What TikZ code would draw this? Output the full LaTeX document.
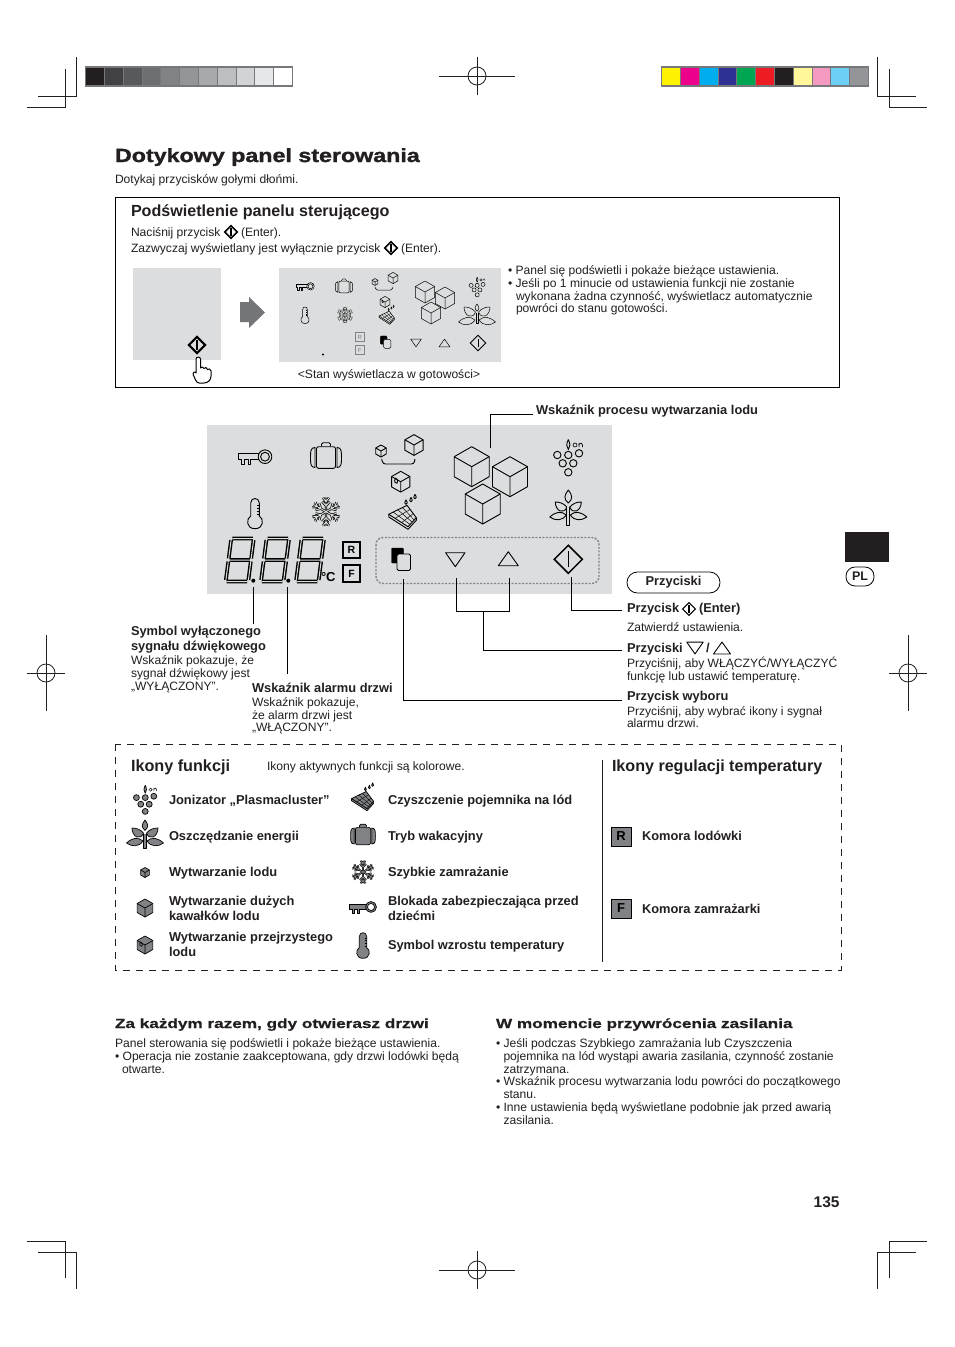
\documentclass[tikz,border=0pt]{standalone}
\usepackage{fontspec}
\setmainfont{Liberation Sans}
\newfontfamily\widefont[FakeStretch=1.3,FakeBold=0.5]{Liberation Sans Bold}
\newfontfamily\titlefont[FakeStretch=1.22,FakeBold=1.5]{Liberation Sans Bold}
\usetikzlibrary{calc}
\definecolor{panel}{HTML}{DCDDDE}
\definecolor{midgray}{HTML}{808285}
\definecolor{barframe}{HTML}{77787B}
\definecolor{inkblack}{HTML}{231F20}
\colorlet{icofill}{panel}
\colorlet{icohole}{panel}
\def\icolw{0.9pt}
\def\enterlw{1.5pt}
\tikzset{
  txt/.style={anchor=base west,inner sep=0pt,outer sep=0pt,text=inkblack,font=\fontsize{12.1}{14}\selectfont},
  txtb/.style={txt,font=\fontsize{12.85}{15}\selectfont\bfseries},
  head/.style={txt,font=\fontsize{16.1}{18}\selectfont\bfseries},
  wide/.style={txt,font=\fontsize{13.2}{16}\widefont},
  ico/.style={draw=black,fill=icofill,line width=\icolw,line join=round},
  crop/.style={draw=inkblack,line width=0.8pt},
  leader/.style={draw=black,line width=0.7pt},
  pics/ienter/.style={code={
    \draw[black,line width=\enterlw,line join=miter] (0,-14)--(14,0)--(0,14)--(-14,0)--cycle;
    \draw[black,line width=\enterlw] (0,-8)--(0,8);}},
  pics/icube/.style={code={
    \draw[ico] (0,-20)--(17.5,-10)--(17.5,10)--(0,20)--(-17.5,10)--(-17.5,-10)--cycle;
    \draw[ico,fill=none] (-17.5,-10)--(0,0)--(17.5,-10) (0,0)--(0,20);}},
  pics/icubew/.style={code={
    \draw[ico] (0,-20)--(17.5,-10)--(17.5,10)--(0,20)--(-17.5,10)--(-17.5,-10)--cycle;
    \draw[ico,fill=none] (-17.5,-10)--(0,0)--(17.5,-10) (0,0)--(0,20);
    \draw[ico,fill=none] (-10,-7) .. controls (-14,0) and (-10,4) .. (-7,3) .. controls (-5,0) and (-5,-3) .. (-10,-7);}},
  pics/ikey/.style={code={
    \draw[ico] (4.6,-4.7)--(-16.7,-4.7)--(-16.7,1.3)--(-13.5,1.3)--(-13.5,6.7)--(-11,6.7)--(-11,1.3)--(-7,1.3)--(-7,6.7)--(-4.5,6.7)--(-4.5,1.3)--(4.6,1.3);
    \draw[ico] (10,-1.3) circle (6.8);
    \draw[ico,fill=icohole] (10,-1.3) circle (4.4);}},
  pics/icase/.style={code={
    \draw[ico,rounded corners=1.5pt] (-4.5,-10.8)--(-4.5,-14.8)--(4.5,-14.8)--(4.5,-10.8);
    \draw[ico,rounded corners=2pt] (-9.5,-10.8) rectangle (9.5,10.8);
    \draw[ico] (-11,-10) .. controls (-15.5,-10) and (-15.5,-6) .. (-15.5,0) .. controls (-15.5,6) and (-15.5,10) .. (-11,10) -- cycle;
    \draw[ico] (11,-10) .. controls (15.5,-10) and (15.5,-6) .. (15.5,0) .. controls (15.5,6) and (15.5,10) .. (11,10) -- cycle;}},
  pics/ithermo/.style={code={
    \draw[ico] (-4.3,3)--(-4.3,-10) .. controls (-4.3,-16) and (4.3,-16) .. (4.3,-10) -- (4.3,3) .. controls (9,5.5) and (9,15.7) .. (0,15.7) .. controls (-9,15.7) and (-9,5.5) .. (-4.3,3) -- cycle;
    \draw[black,line width=\icolw] (2,-8)--(4.3,-8) (2,-5)--(4.3,-5) (2,-2)--(4.3,-2) (2,1)--(4.3,1);}},
  pics/isnow/.style={code={
    \foreach \a in {0,60,...,300}{
      \draw[rotate=\a,black,line width=2.6*\icolw] (0,0)--(0,-14) (0,-6)--(3.8,-10) (0,-6)--(-3.8,-10) (0,-10)--(3,-14) (0,-10)--(-3,-14);}
    \foreach \a in {0,60,...,300}{
      \draw[rotate=\a,icofill,line width=1.0*\icolw] (0,0)--(0,-14) (0,-6)--(3.8,-10) (0,-6)--(-3.8,-10) (0,-10)--(3,-14) (0,-10)--(-3,-14);}}},
  pics/itray/.style={code={
    \coordinate (L) at (-14.3,-1.7); \coordinate (T) at (4,-10.7);
    \coordinate (R) at (13.3,1.7); \coordinate (B) at (5,10.7);
    \draw[ico] (L)--([yshift=-2.6pt]L)--([yshift=-2.6pt]B)--([yshift=-2.6pt]R)--(R)--cycle;
    \draw[ico] (L)--(T)--(R)--(B)--cycle;
    \foreach \t in {.25,.5,.75}{\draw[black,line width=0.55*\icolw] ($(L)!\t!(T)$)--($(B)!\t!(R)$);}
    \foreach \t in {.33,.67}{\draw[black,line width=0.55*\icolw] ($(L)!\t!(B)$)--($(T)!\t!(R)$);}
    \foreach \p in {(3,-13.5),(8,-16),(12,-19)}{
      \draw[ico,shift={\p},scale=.9] (0,-3) .. controls (2,0) and (1.5,2) .. (0,2) .. controls (-1.5,2) and (-2,0) .. (0,-3);}}},
  pics/igrape/.style={code={
    \foreach \p in {(-10.7,-3),(0.3,-3),(11,-4.7),(-5.3,5.3),(5.3,5.3),(0.3,14.3)}{
      \draw[ico] \p circle (3.7);}
    \draw[ico] (0.3,-18.5) .. controls (-1.8,-14) and (-1.8,-11) .. (0.3,-8.5) .. controls (2.4,-11) and (2.4,-14) .. (0.3,-18.5);
    \draw[black,line width=0.7*\icolw] (7,-13) circle (2);
    \draw[black,line width=0.7*\icolw] (11,-11)--(11,-15) (11,-13.5) .. controls (12,-15.5) and (14.5,-15.5) .. (14.5,-13)--(14.5,-11);}},
  pics/ileafhalf/.style={code={
    \draw[ico] (-1.5,-3) .. controls (-5,-7) and (-9,-8) .. (-13,-8) .. controls (-13,-4) and (-11,0) .. (-8,1) .. controls (-5,1.5) and (-3,1) .. (-1.5,-3) -- cycle;
    \draw[ico] (-2,5) .. controls (-7,0.5) and (-13,2) .. (-18.5,7) .. controls (-13,11) and (-6,11) .. (-2,5) -- cycle;}},
  pics/ileaf/.style={code={
    \pic {ileafhalf};
    \pic[xscale=-1] {ileafhalf};
    \draw[ico] (0,-7) .. controls (-5,-11) and (-4,-15) .. (0,-20) .. controls (4,-15) and (5,-11) .. (0,-7) -- cycle;
    \draw[ico] (-1.5,-3)--(-1.5,15)--(1.5,15)--(1.5,-3);}},
  pics/icopy/.style={code={
    \draw[black,fill=black,rounded corners=1pt] (-6.5,-11) rectangle (5.5,4);
    \draw[ico,rounded corners=1.5pt,fill=icofill] (-1,-5) rectangle (12.5,11.5);}},
  pics/idown/.style={code={\draw[ico,fill=none] (-9.7,-7)--(9.7,-7)--(0,7)--cycle;}},
  pics/iup/.style={code={\draw[ico,fill=none] (-10,7)--(10,7)--(0,-7)--cycle;}},
  seg/.style={line width=3.8pt,black},
  segin/.style={line width=1pt,panel},
}
\newcommand\digitpaths[1]{
  \draw[#1] (2.5,-44.5)--(23,-44.5) (2.8,-23)--(22.8,-23) (2.5,-1.5)--(23,-1.5)
   (1.5,-43)--(1.5,-24.5) (1.5,-21.5)--(1.5,-3) (24,-43)--(24,-24.5) (24,-21.5)--(24,-3);}
\newcommand\sevenseg[1]{
  \begin{scope}[shift={(#1,583)},xslant=.13]
    \digitpaths{seg}\digitpaths{segin}
  \end{scope}}
\newcommand\tx[4][txt]{\node[#1] (#2) at (#3) {#4};}
\begin{document}
\begin{tikzpicture}[x=1pt,y=-1pt]
\useasboundingbox (0,0) rectangle (954,1347);
\fill[white] (0,0) rectangle (954,1347);
% crop marks
\draw[crop] (76,57)--(76,96)--(38,96) (65,69)--(65,107)--(27,107);
\draw[crop] (877,57)--(877,96)--(916,96) (889,69)--(889,107)--(927,107);
\draw[crop] (27,1241)--(65,1241)--(65,1278) (38,1252)--(76,1252)--(76,1289);
\draw[crop] (927,1241)--(889,1241)--(889,1278) (916,1252)--(877,1252)--(877,1289);
\foreach \cx/\cy/\hw/\hh in {477/76/38/19,46/673/19/38,908/673/19/38,477/1270/38/19}{
  \draw[crop] (\cx-\hw,\cy)--(\cx+\hw,\cy) (\cx,\cy-\hh)--(\cx,\cy+\hh);
  \draw[crop] (\cx,\cy) circle (9);}
% colour bars
\fill[barframe] (85,66) rectangle (293,87);
\foreach \c [count=\i from 0] in {231F20,414042,58595B,6D6E71,808285,939598,A7A9AC,BCBEC0,D1D3D4,E6E7E8,FFFFFF}{
  \definecolor{tmpc}{HTML}{\c}
  \fill[tmpc] (86.2+\i*18.8,68) rectangle (86.2+\i*18.8+17.8,85);}
\fill[barframe] (661,66) rectangle (869,87);
\foreach \c [count=\i from 0] in {FFF200,EC008C,00AEEF,2E3192,00A651,ED1C24,231F20,FFF799,F49AC1,6DCFF6,939598}{
  \definecolor{tmpc}{HTML}{\c}
  \fill[tmpc] (662.2+\i*18.8,68) rectangle (662.2+\i*18.8+17.8,85);}
% title
\tx[txt,font=\fontsize{19.05}{24}\titlefont]{title}{115,162}{Dotykowy panel sterowania}
\tx{sub}{115,183}{Dotykaj przycisków gołymi dłońmi.}
% top box
\draw[black,line width=0.8pt] (115,197) rectangle (839,387);
\tx[head]{h1}{131,216}{Podświetlenie panelu sterującego}
\tx{l1}{131,236}{Naciśnij przycisk}
\pic[scale=.45] at (231,232) {ienter};
\tx{l1b}{241,236}{(Enter).}
\tx{l2}{131,252}{Zazwyczaj wyświetlany jest wyłącznie przycisk}
\pic[scale=.45] at (391,248) {ienter};
\tx{l2b}{401,252}{(Enter).}
\fill[panel] (133,268) rectangle (221,360);
\begin{scope}\def\enterlw{2.2pt}
\pic[scale=.58] at (197,345) {ienter};
\end{scope}
\draw[black,line width=1pt,fill=white,line join=round] (196,373)--(196,359) .. controls (196,356.5) and (200.5,356.5) .. (200.5,359) -- (200.5,368) .. controls (201,366.5) and (204,366.5) .. (204,368.5) .. controls (204.5,367) and (207.5,367) .. (207.5,369.5) .. controls (208,368.5) and (211,368.5) .. (211,371) -- (211,376) .. controls (211,380) and (208,383) .. (204,383) -- (199,383) .. controls (196,383) and (195,378) .. (193.5,375.5) .. controls (192,373) and (195,370.5) .. (196,373) -- cycle;
\fill[midgray!90!black] (240,302)--(249,302)--(249,297)--(265,312.5)--(249,328)--(249,322)--(240,322)--cycle;
\fill[panel] (279,268) rectangle (501,362);
\begin{scope}
\def\icolw{0.5pt}\def\enterlw{0.9pt}
\pic[scale=.55] at (305,287) {ikey};
\pic[scale=.55] at (344,287) {icase};
\pic[scale=.17] at (375,282) {icube};
\pic[scale=.28] at (393,278) {icube};
\draw[black,line width=0.5pt,rounded corners=1.5pt] (375,287)--(376,290)--(392,290)--(393,287);
\pic[scale=.28] at (385,302) {icubew};
\pic[scale=.55] at (425,292) {icube};
\pic[scale=.55] at (445,298) {icube};
\pic[scale=.55] at (431,313) {icube};
\pic[scale=.55] at (477,287) {igrape};
\pic[scale=.55] at (477,315) {ileaf};
\pic[scale=.55] at (305,315) {ithermo};
\pic[scale=.55] at (345,315) {isnow};
\pic[scale=.55] at (387,317) {itray};
\draw[midgray,line width=.5pt] (355.5,332.5) rectangle (364,341.5) (355.5,345.5) rectangle (364,354.5);
\tx[txt,anchor=center,text=midgray,font=\fontsize{6}{7}\selectfont]{sr}{359.7,337}{R}
\tx[txt,anchor=center,text=midgray,font=\fontsize{6}{7}\selectfont]{sf}{359.7,350}{F}
\fill[black] (323,354.5) circle (1.2);
\pic[scale=.55] at (384,342) {icopy};
\pic[scale=.55] at (416,343) {idown};
\pic[scale=.55] at (444.5,343) {iup};
\pic[scale=.55] at (478,343) {ienter};
\end{scope}
\tx[txt,anchor=base]{standby}{389,378}{<Stan wyświetlacza w gotowości>}
\tx{b1}{508,274}{• Panel się podświetli i pokaże bieżące ustawienia.}
\tx{b2}{508,287}{• Jeśli po 1 minucie od ustawienia funkcji nie zostanie}
\tx{b3}{516,300}{wykonana żadna czynność, wyświetlacz automatycznie}
\tx{b4}{516,312}{powróci do stanu gotowości.}
% main panel
\fill[panel] (207,425) rectangle (612,594);
\pic at (255,458) {ikey};
\pic at (326,457.5) {icase};
\pic[scale=.3] at (381,451) {icube};
\pic[scale=.52] at (414,445) {icube};
\draw[black,line width=.9pt,rounded corners=2.5pt] (381.7,459)--(383,464)--(414,464)--(415,459);
\pic[scale=.52] at (400.7,481.7) {icubew};
\pic at (471.7,466.7) {icube};
\pic at (510,476.7) {icube};
\pic at (482.7,504) {icube};
\pic at (568,458) {igrape};
\pic at (568.3,510) {ileaf};
\pic at (255,513) {ithermo};
\pic at (326,511.7) {isnow};
\pic at (403,516) {itray};
\sevenseg{224}\sevenseg{259.3}\sevenseg{294.3}
\fill[black] (253.3,580.7) circle (2) (288.3,580.7) circle (2);
\tx[txt,anchor=base,text=black,font=\fontsize{13}{15}\selectfont\bfseries]{deg}{328.3,581}{°C}
\draw[black,line width=1.1pt] (343,542) rectangle (360,558) (343,565) rectangle (360,582);
\tx[txt,anchor=center,text=black,font=\fontsize{10.5}{12}\selectfont\bfseries]{rk}{351.5,550}{R}
\tx[txt,anchor=center,text=black,font=\fontsize{10.5}{12}\selectfont\bfseries]{fk}{351.5,573.5}{F}
\draw[midgray,line width=1.4pt,dash pattern=on 2pt off 1.5pt,rounded corners=7pt] (376,537.5) rectangle (599,583.5);
\pic at (398,559) {icopy};
\pic at (455.3,559.7) {idown};
\pic at (508.3,558.7) {iup};
\pic at (568.3,559.3) {ienter};
% labels around panel
\tx[txtb]{lice}{536,414}{Wskaźnik procesu wytwarzania lodu}
\coordinate (lA) at (533,414); \coordinate (lB) at (490,414); \coordinate (lC) at (490,448);
\draw[leader] (lA)--(lB)--(lC);
\tx[txtb]{ls1}{131,635}{Symbol wyłączonego}
\tx[txtb]{ls2}{131,650}{sygnału dźwiękowego}
\tx{ls3}{131,664}{Wskaźnik pokazuje, że}
\tx{ls4}{131,677}{sygnał dźwiękowy jest}
\tx{ls5}{131,690}{„WYŁĄCZONY”.}
\tx[txtb]{la1}{252,692}{Wskaźnik alarmu drzwi}
\tx{la2}{252,706}{Wskaźnik pokazuje,}
\tx{la3}{252,719}{że alarm drzwi jest}
\tx{la4}{252,731}{„WŁĄCZONY”.}
\coordinate (dA) at (253.3,587); \coordinate (dB) at (253.3,624);
\coordinate (eA) at (287.3,587); \coordinate (eB) at (287.3,674);
\draw[leader] (dA)--(dB); \draw[leader] (eA)--(eB);
\coordinate (sA) at (403.3,579); \coordinate (sB) at (403.3,700); \coordinate (sC) at (622,700);
\draw[leader] (sA)--(sB)--(sC);
\coordinate (tA) at (456,578); \coordinate (tB) at (456,611); \coordinate (tC) at (509,611); \coordinate (tD) at (509,578);
\coordinate (tE) at (483,611); \coordinate (tF) at (483,650); \coordinate (tG) at (622,650);
\draw[leader] (tA)--(tB)--(tC)--(tD); \draw[leader] (tE)--(tF)--(tG);
\coordinate (uA) at (571.5,577); \coordinate (uB) at (571.5,610); \coordinate (uC) at (622,610);
\draw[leader] (uA)--(uB)--(uC);
\node[draw=black,line width=.8pt,rounded corners=10.4pt,minimum width=93pt,minimum height=21pt,inner sep=0pt,text=inkblack,font=\fontsize{12.85}{15}\selectfont\bfseries] (pill) at (673.5,582.5) {Przyciski};
\tx[txtb]{p1}{627,612}{Przycisk}
\begin{scope}\def\enterlw{1.1pt}\pic[scale=.45] at (689,609) {ienter};\end{scope}
\tx[txtb]{p1b}{699,612}{(Enter)}
\tx{p2}{627,631}{Zatwierdź ustawienia.}
\tx[txtb]{p3}{627,652}{Przyciski}
\pic[scale=.85] at (695,648) {idown};
\tx[txtb]{p3s}{706,652}{/}
\pic[scale=.85] at (722,648) {iup};
\tx{p4}{627,667}{Przyciśnij, aby WŁĄCZYĆ/WYŁĄCZYĆ}
\tx{p5}{627,680}{funkcję lub ustawić temperaturę.}
\tx[txtb]{p6}{627,700}{Przycisk wyboru}
\tx{p7}{627,715}{Przyciśnij, aby wybrać ikony i sygnał}
\tx{p8}{627,727}{alarmu drzwi.}
% dashed box
\draw[inkblack,line width=.8pt,dash pattern=on 7pt off 6pt] (115,744) rectangle (841,970);
\coordinate (vA) at (602,760); \coordinate (vB) at (602,962);
\draw[inkblack,line width=.8pt] (vA)--(vB);
\tx[txt,font=\fontsize{16.2}{18}\selectfont\bfseries]{f0}{131,771}{Ikony funkcji}
\tx{f00}{267,770}{Ikony aktywnych funkcji są kolorowe.}
\tx[txt,font=\fontsize{16.1}{18}\selectfont\bfseries]{t0}{612,771}{Ikony regulacji temperatury}
\tx[txtb]{i1}{169,804}{Jonizator „Plasmacluster”}
\tx[txtb]{i2}{169,840}{Oszczędzanie energii}
\tx[txtb]{i3}{169,876}{Wytwarzanie lodu}
\tx[txtb]{i4}{169,905}{Wytwarzanie dużych}
\tx[txtb]{i4b}{169,920}{kawałków lodu}
\tx[txtb]{i5}{169,941}{Wytwarzanie przejrzystego}
\tx[txtb]{i5b}{169,956}{lodu}
\tx[txtb]{j1}{388,804}{Czyszczenie pojemnika na lód}
\tx[txtb]{j2}{388,840}{Tryb wakacyjny}
\tx[txtb]{j3}{388,876}{Szybkie zamrażanie}
\tx[txtb]{j4}{388,905}{Blokada zabezpieczająca przed}
\tx[txtb]{j4b}{388,920}{dziećmi}
\tx[txtb]{j5}{388,949}{Symbol wzrostu temperatury}
\begin{scope}
\colorlet{icofill}{midgray}\colorlet{icohole}{white}\def\icolw{0.7pt}
\pic[scale=.8] at (145,800) {igrape};
\pic[scale=.8] at (145,836) {ileaf};
\pic[scale=.25] at (145,872.5) {icube};
\pic[scale=.45] at (145,908) {icube};
\pic[scale=.45] at (145,945) {icubew};
\pic[scale=.8] at (363,800) {itray};
\pic[scale=.8] at (363,836) {icase};
\pic[scale=.8] at (363,872) {isnow};
\pic[scale=.8] at (363,908) {ikey};
\pic[scale=.85] at (363,945) {ithermo};
\end{scope}
\node[draw=black,fill=midgray,line width=.8pt,minimum width=20pt,minimum height=19pt,inner sep=0pt,text=black,font=\fontsize{13}{15}\selectfont\bfseries] (rkey) at (621,836.5) {R};
\node[draw=black,fill=midgray,line width=.8pt,minimum width=20pt,minimum height=19pt,inner sep=0pt,text=black,font=\fontsize{13}{15}\selectfont\bfseries] (fkey) at (621,908.5) {F};
\tx[txtb]{r1}{642,840}{Komora lodówki}
\tx[txtb]{r2}{642,913}{Komora zamrażarki}
% bottom
\tx[wide]{z0}{115,1028}{Za każdym razem, gdy otwierasz drzwi}
\tx{z1}{115,1047}{Panel sterowania się podświetli i pokaże bieżące ustawienia.}
\tx{z2}{115,1060}{• Operacja nie zostanie zaakceptowana, gdy drzwi lodówki będą}
\tx{z3}{122,1073}{otwarte.}
\tx[wide]{w0}{496,1028}{W momencie przywrócenia zasilania}
\tx{w1}{496,1047}{• Jeśli podczas Szybkiego zamrażania lub Czyszczenia}
\tx{w2}{503.5,1060}{pojemnika na lód wystąpi awaria zasilania, czynność zostanie}
\tx{w3}{503.5,1073}{zatrzymana.}
\tx{w4}{496,1085}{• Wskaźnik procesu wytwarzania lodu powróci do początkowego}
\tx{w5}{503.5,1098}{stanu.}
\tx{w6}{496,1111}{• Inne ustawienia będą wyświetlane podobnie jak przed awarią}
\tx{w7}{503.5,1124}{zasilania.}
\tx[txt,anchor=base east,font=\fontsize{15.5}{18}\selectfont\bfseries]{page}{839.5,1207}{135}
\fill[inkblack] (845,532) rectangle (889,562);
\node[draw=black,line width=.8pt,rounded corners=9pt,minimum width=28pt,minimum height=19pt,inner sep=0pt,text=inkblack,font=\fontsize{12.5}{14}\selectfont\bfseries] (pl) at (860,576.5) {PL};
\end{tikzpicture}
\end{document}
